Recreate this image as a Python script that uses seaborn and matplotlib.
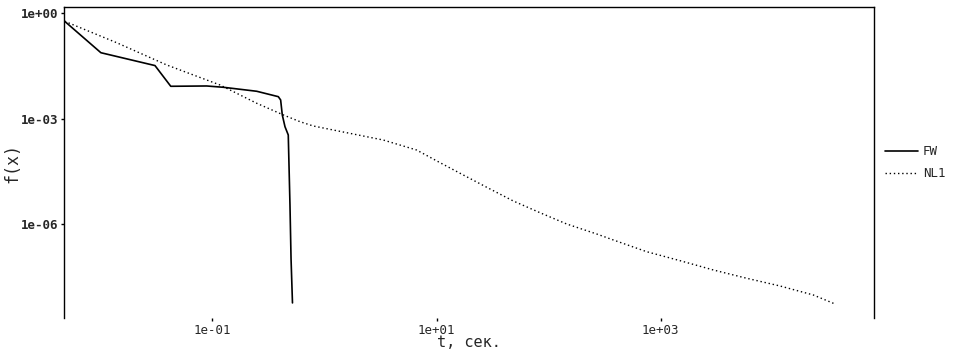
import numpy as np
import pandas as pd
import matplotlib
matplotlib.use("Agg")
import matplotlib.pyplot as plt
import matplotlib.ticker as mticker
import seaborn as sns

# values (log-log)
fw_t = [0.00482, 0.01014, 0.0308, 0.0426, 0.0891, 0.1253, 0.249, 0.388,
        0.407, 0.421, 0.445, 0.476, 0.493, 0.504, 0.519]
fw_f = [0.592, 0.0753, 0.0324, 0.00832, 0.00849, 0.0078, 0.006, 0.00421,
        0.00339, 0.00127, 5.87e-4, 3.41e-4, 3.47e-6, 1.0e-7, 5.6e-9]

nl1_t = [0.00482, 0.01403, 0.0392, 0.1172, 0.249, 0.430, 0.605, 0.796,
         1.581, 3.35, 6.65, 10.74, 16.2, 28.1, 48.4, 83.8, 144.9, 268.5,
         377.6, 750, 1486, 2944, 5848, 11590, 22960, 35890]
nl1_f = [0.592, 0.145, 0.0337, 0.00906, 0.00273, 0.00127, 8.17e-4, 6.15e-4,
         3.96e-4, 2.45e-4, 1.27e-4, 5.55e-5, 2.77e-5, 1.10e-5, 4.49e-6,
         2.08e-6, 9.93e-7, 5.15e-7, 3.48e-7, 1.61e-7, 8.95e-8, 4.86e-8,
         2.82e-8, 1.70e-8, 9.42e-9, 5.22e-9]

x_ticks = [1e-1, 1e1, 1e3]
y_ticks = [1e0, 1e-3, 1e-6]

df = pd.concat([
    pd.DataFrame({"t": fw_t, "f": fw_f, "method": "FW"}),
    pd.DataFrame({"t": nl1_t, "f": nl1_f, "method": "NL1"}),
])

sns.set_style("white")
plt.rcParams["font.family"] = ["DejaVu Sans Mono", "DejaVu Sans"]

fig = plt.figure(figsize=(9.59, 3.5), dpi=100)
ax = fig.add_axes([0.0667, 0.0906, 0.8447, 0.8885])

sns.lineplot(data=df, x="t", y="f", hue="method", style="method",
             palette={"FW": "black", "NL1": "black"},
             dashes={"FW": "", "NL1": (1, 2)},
             sort=False, estimator=None, ax=ax, linewidth=1.2)
for line in ax.lines:
    if line.get_linestyle() != "-":
        line.set_linewidth(1.0)

ax.set_xscale("log")
ax.set_yscale("log")
ax.set_xlim(0.00475, 80000)
ax.set_ylim(2.04e-9, 1.48)

ax.xaxis.set_major_locator(mticker.FixedLocator(x_ticks))
ax.yaxis.set_major_locator(mticker.FixedLocator(y_ticks))
ax.xaxis.set_minor_locator(mticker.NullLocator())
ax.yaxis.set_minor_locator(mticker.NullLocator())
ax.set_xticklabels(["1e-01", "1e+01", "1e+03"], fontsize=9)
ax.set_yticklabels(["1e+00", "1e-03", "1e-06"], fontsize=9, fontweight="bold")
ax.tick_params(axis="both", length=2, width=1, color="black", pad=2,
               bottom=True, left=True, direction="out")

for side in ["left", "top", "right"]:
    ax.spines[side].set_visible(True)
    ax.spines[side].set_color("black")
    ax.spines[side].set_linewidth(1.0)
ax.spines["bottom"].set_visible(False)

ax.set_xlabel("t, сек.", fontsize=11, va="center")
ax.set_ylabel("f(x)", fontsize=12, va="center")
ax.xaxis.set_label_coords(0.5, -0.079)
ax.yaxis.set_label_coords(-0.064, 0.5)

ax.legend(loc="center left", bbox_to_anchor=(1.0, 0.5), frameon=False,
          fontsize=9, handlelength=2.6, handletextpad=0.4, labelspacing=0.75)

fig.savefig("out.png", dpi=100)
